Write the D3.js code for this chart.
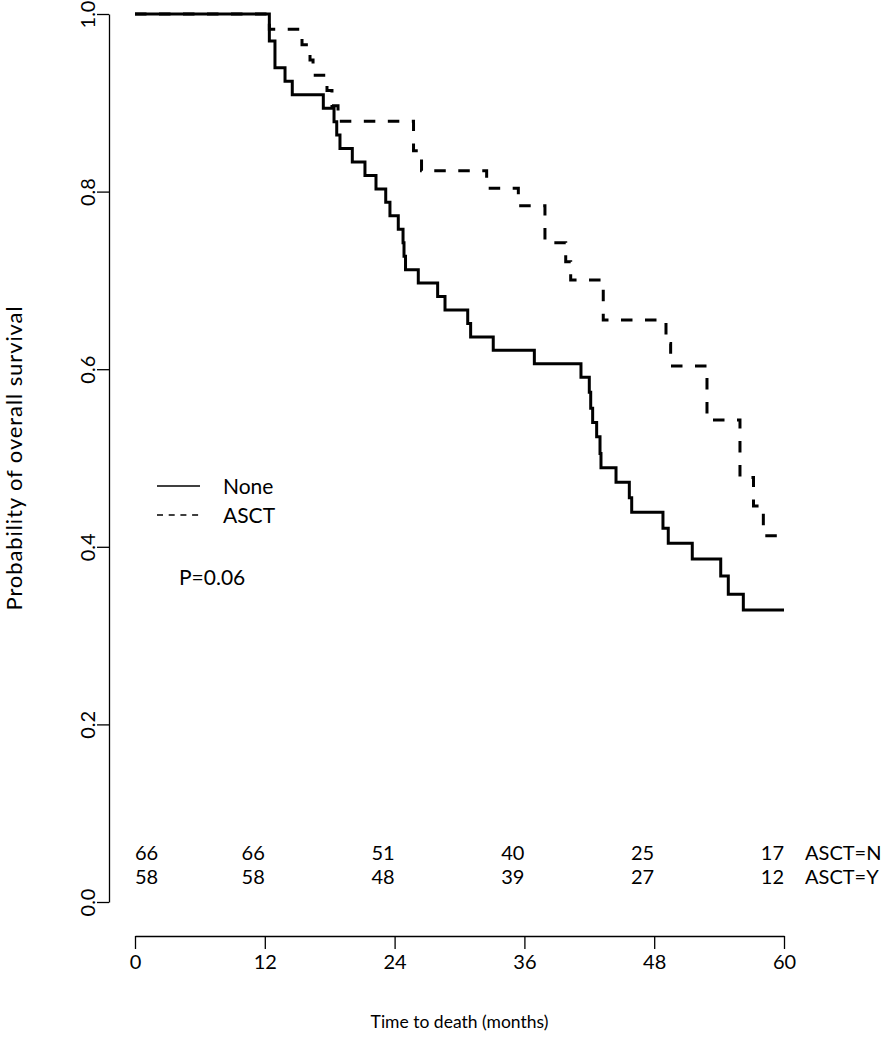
<!DOCTYPE html>
<html>
<head>
<meta charset="utf-8">
<script src="https://cdn.jsdelivr.net/npm/d3@7"></script>
<style>
  html, body { margin: 0; padding: 0; background: #fff; }
  svg { display: block; }
  text { font-family: Lato, "Open Sans", sans-serif; fill: #000; }
</style>
</head>
<body>
<svg id="chart" width="881" height="1050"></svg>
<script>
// ---- data ----
const groups = ["None", "ASCT"];
// Kaplan–Meier steps: time (months) at which the curve drops, and survival after the drop
const noneTimes = [0, 12.42, 12.94, 13.87, 14.54, 17.41, 18.40, 18.65, 18.95, 20.09, 21.26, 22.28, 23.18, 23.57, 24.34, 24.78, 24.87, 25.01, 26.19, 27.98, 28.66, 30.76, 31.03, 33.12, 36.92, 41.23, 42.00, 42.13, 42.31, 42.68, 42.99, 43.08, 44.47, 45.70, 45.92, 48.81, 49.30, 51.52, 54.15, 54.85, 56.24];
const noneSurv  = [1.0, 0.9697, 0.9394, 0.9242, 0.9091, 0.8939, 0.8788, 0.8636, 0.8485, 0.8333, 0.8182, 0.8030, 0.7879, 0.7727, 0.7576, 0.7424, 0.7273, 0.7121, 0.6970, 0.6818, 0.6667, 0.6515, 0.6364, 0.6212, 0.6061, 0.5909, 0.5740, 0.5560, 0.5400, 0.5240, 0.5050, 0.4890, 0.4726, 0.4553, 0.4389, 0.4208, 0.4039, 0.3863, 0.3671, 0.3465, 0.3288];
const noneEnd = 60;
const asctTimes = [0, 12.42, 15.44, 16.18, 16.46, 17.75, 18.21, 18.77, 25.75, 26.49, 32.51, 35.44, 37.90, 39.82, 40.28, 43.29, 49.09, 49.52, 52.88, 55.93, 57.18, 58.09];
const asctSurv  = [1.0, 0.9828, 0.9655, 0.9483, 0.9310, 0.9138, 0.8966, 0.8793, 0.8460, 0.8235, 0.8037, 0.7840, 0.7425, 0.7210, 0.7005, 0.6554, 0.6290, 0.6036, 0.5428, 0.4780, 0.4460, 0.4125];
const asctEnd = 59.6;

const xTicks = [0, 12, 24, 36, 48, 60];
const yTicks = [0.0, 0.2, 0.4, 0.6, 0.8, 1.0];
const riskLabels = ["ASCT=N", "ASCT=Y"];
const riskNone = [66, 66, 51, 40, 25, 17];
const riskAsct = [58, 58, 48, 39, 27, 12];
const pValueText = "P=0.06";
const xTitle = "Time to death (months)";
const yTitle = "Probability of overall survival";

// ---- layout ----
const svg = d3.select("#chart");
const x = d3.scaleLinear().domain([0, 60]).range([135, 784]);
const y = d3.scaleLinear().domain([0, 1]).range([902, 14]);
const xAxisY = 936, yAxisX = 109;

// axes
const xAxis = d3.axisBottom(x).tickValues(xTicks).tickSize(13).tickSizeOuter(0).tickPadding(6).tickFormat(d3.format("d"));
const gx = svg.append("g").attr("transform", `translate(0,${xAxisY})`).call(xAxis);
gx.selectAll("path,line").attr("stroke", "#000").attr("stroke-width", 1.3);
gx.selectAll("text").attr("font-size", 20).attr("font-family", "Lato, sans-serif").attr("fill", "#000");

const yAxis = d3.axisLeft(y).tickValues(yTicks).tickSize(12).tickSizeOuter(0).tickFormat(d3.format(".1f"));
const gy = svg.append("g").attr("transform", `translate(${yAxisX},0)`).call(yAxis);
gy.selectAll("path,line").attr("stroke", "#000").attr("stroke-width", 1.3);
gy.selectAll("text")
  .attr("font-size", 20).attr("font-family", "Lato, sans-serif").attr("fill", "#000")
  .attr("text-anchor", "middle").attr("dy", null)
  .attr("x", null)
  .attr("transform", "translate(-14,0) rotate(-90)");

// titles
svg.append("text").attr("x", (x(0) + x(60)) / 2).attr("y", 1028)
  .attr("text-anchor", "middle").attr("font-size", 17.5).text(xTitle);
svg.append("text").attr("transform", `translate(22,${(y(0) + y(1)) / 2}) rotate(-90)`)
  .attr("text-anchor", "middle").attr("font-size", 22).attr("letter-spacing", 0.9).text(yTitle);

// curves
function stepPts(times, surv, end) {
  const pts = times.map((t, i) => [t, surv[i]]);
  pts.push([end, surv[surv.length - 1]]);
  return pts;
}
const line = d3.line().x(d => x(d[0])).y(d => y(d[1])).curve(d3.curveStepAfter);
svg.append("path").datum(stepPts(noneTimes, noneSurv, noneEnd))
  .attr("d", line).attr("fill", "none").attr("stroke", "#000").attr("stroke-width", 3);
svg.append("path").datum(stepPts(asctTimes, asctSurv, asctEnd))
  .attr("d", line).attr("fill", "none").attr("stroke", "#000").attr("stroke-width", 3)
  .attr("stroke-dasharray", "11.5,12.5");

// legend
const legend = svg.append("g");
[0, 1].forEach(i => {
  const ly = 486 + i * 29;
  legend.append("line").attr("x1", 157).attr("x2", 200).attr("y1", ly).attr("y2", ly)
    .attr("stroke", "#000").attr("stroke-width", 1.3)
    .attr("stroke-dasharray", i === 1 ? "6,5.7" : null);
  legend.append("text").attr("x", 223).attr("y", ly + 8).attr("font-size", 21).text(groups[i]);
});
svg.append("text").attr("x", 179).attr("y", 585).attr("font-size", 21).text(pValueText);

// number at risk
[riskNone, riskAsct].forEach((row, r) => {
  const ry = 860 + r * 24;
  row.forEach((v, i) => {
    svg.append("text").attr("x", x(xTicks[i])).attr("y", ry)
      .attr("text-anchor", i === 0 ? "start" : "end")
      .attr("font-size", 20).text(v);
  });
  svg.append("text").attr("x", x(60) + 21).attr("y", ry).attr("font-size", 20).text(riskLabels[r]);
});
</script>
</body>
</html>
